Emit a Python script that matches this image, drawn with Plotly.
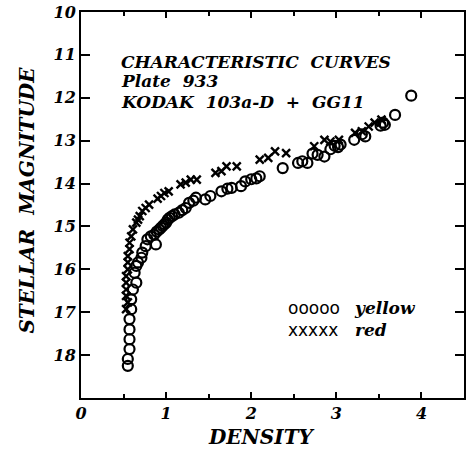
import plotly.graph_objects as go

# Yellow (circles): density, magnitude
yellow_density = [3.88, 3.69, 3.57, 3.55, 3.52, 3.34, 3.30, 3.21, 3.05, 3.02, 2.98, 2.93, 2.86, 2.78, 2.72,
                  2.66, 2.60, 2.55, 2.37, 2.10, 2.06, 2.00, 1.93, 1.88, 1.77, 1.72, 1.65, 1.52, 1.46, 1.35,
                  1.32, 1.27, 1.23, 1.19, 1.15, 1.10, 1.07, 1.04, 1.02, 1.00, 0.98, 0.96, 0.94, 0.92, 0.89,
                  0.86, 0.82, 0.88, 0.78, 0.76, 0.72, 0.71, 0.67, 0.65, 0.63, 0.65, 0.61, 0.59, 0.59, 0.57,
                  0.57, 0.57, 0.57, 0.55, 0.55]
yellow_mag = [11.95, 12.40, 12.63, 12.58, 12.65, 12.90, 12.85, 12.98, 13.09, 13.15, 13.12, 13.20, 13.37, 13.33, 13.30,
              13.52, 13.48, 13.52, 13.64, 13.83, 13.88, 13.90, 13.95, 14.06, 14.10, 14.12, 14.18, 14.29, 14.37, 14.33,
              14.40, 14.45, 14.57, 14.62, 14.68, 14.72, 14.76, 14.80, 14.84, 14.91, 14.95, 14.99, 15.03, 15.07, 15.12,
              15.19, 15.23, 15.42, 15.30, 15.46, 15.61, 15.73, 15.84, 15.92, 16.08, 16.31, 16.47, 16.70, 16.93, 17.16,
              17.40, 17.63, 17.86, 18.09, 18.25]

# Red (crosses): density, magnitude
red_density = [3.53, 3.45, 3.38, 3.30, 3.22, 3.03, 2.93, 2.86, 2.74, 2.41, 2.28, 2.20, 2.10, 1.83, 1.71,
               1.65, 1.58, 1.36, 1.29, 1.23, 1.17, 1.03, 0.98, 0.94, 0.90, 0.80, 0.76, 0.72, 0.69, 0.67,
               0.65, 0.61, 0.59, 0.57, 0.57, 0.55, 0.55, 0.55, 0.53, 0.53, 0.53, 0.53, 0.55, 0.53]
red_mag = [12.51, 12.58, 12.67, 12.78, 12.82, 12.98, 13.02, 12.98, 13.13, 13.29, 13.25, 13.40, 13.44, 13.60, 13.60,
           13.71, 13.75, 13.91, 13.91, 13.98, 14.02, 14.18, 14.22, 14.29, 14.35, 14.49, 14.57, 14.64, 14.76, 14.84,
           14.91, 15.07, 15.23, 15.38, 15.53, 15.69, 15.84, 16.00, 16.16, 16.31, 16.47, 16.62, 16.77, 16.93]

x_ticks = [0, 1, 2, 3, 4]
y_ticks = [10, 11, 12, 13, 14, 15, 16, 17, 18]

FONT = "DejaVu Serif"

fig = go.Figure()
fig.add_trace(go.Scatter(x=yellow_density, y=yellow_mag, mode="markers", name="yellow",
                         marker=dict(symbol="circle-open", size=10, color="black", line=dict(width=2.2))))
fig.add_trace(go.Scatter(x=red_density, y=red_mag, mode="markers", name="red",
                         marker=dict(symbol="x-thin-open", size=8, color="black", line=dict(width=2.4))))

axis_common = dict(showline=True, linecolor="black", linewidth=2, mirror="allticks",
                   ticks="inside", tickcolor="black", tickwidth=2, showgrid=False, zeroline=False,
                   tickfont=dict(family=FONT, size=16, color="black", weight="bold", style="italic"))

fig.update_xaxes(range=[0, 4.5], tickvals=x_ticks, ticklen=6,
                 minor=dict(ticks="inside", dtick=0.5, tick0=0, ticklen=4, tickwidth=2, tickcolor="black"),
                 **axis_common)
fig.update_yaxes(range=[19, 10], tickvals=y_ticks, ticklen=9, **axis_common)

tf = dict(family=FONT, color="black", weight="bold", style="italic")
annots = [
    dict(x=0.1, y=0.87, text="CHARACTERISTIC  CURVES", size=17),
    dict(x=0.1, y=0.82, text="Plate  933", size=17),
    dict(x=0.1, y=0.766, text="KODAK  103a-D  +  GG11", size=17),
]
for a in annots:
    fig.add_annotation(xref="paper", yref="paper", x=a["x"], y=a["y"], xanchor="left", yanchor="middle",
                       text=a["text"], showarrow=False, font=dict(size=a["size"], **tf))

# legend (two columns, each a two-line annotation)
fig.add_annotation(xref="paper", yref="paper", x=0.534, y=0.204, xanchor="left", yanchor="middle",
                   text="ooooo<br>xxxxx", align="left", showarrow=False,
                   font=dict(family="DejaVu Sans", size=17, color="black"))
fig.add_annotation(xref="paper", yref="paper", x=0.707, y=0.204, xanchor="left", yanchor="middle",
                   text="yellow<br>red", align="left", showarrow=False, font=dict(size=17, **tf))

fig.add_annotation(xref="paper", yref="paper", x=0.47, y=-0.10, xanchor="center", yanchor="middle",
                   text="DENSITY", showarrow=False, font=dict(size=20, **tf))
fig.add_annotation(xref="paper", yref="paper", x=-0.142, y=0.513, xanchor="center", yanchor="middle",
                   text="STELLAR  MAGNITUDE", textangle=-90, showarrow=False, font=dict(size=20, **tf))

fig.update_layout(width=468, height=457, margin=dict(l=81, r=2, t=12, b=59),
                  paper_bgcolor="white", plot_bgcolor="white", showlegend=False)

fig.write_html("out.html", config={"displayModeBar": False},
               post_script="document.body.style.margin='0';document.body.style.overflow='hidden';")
